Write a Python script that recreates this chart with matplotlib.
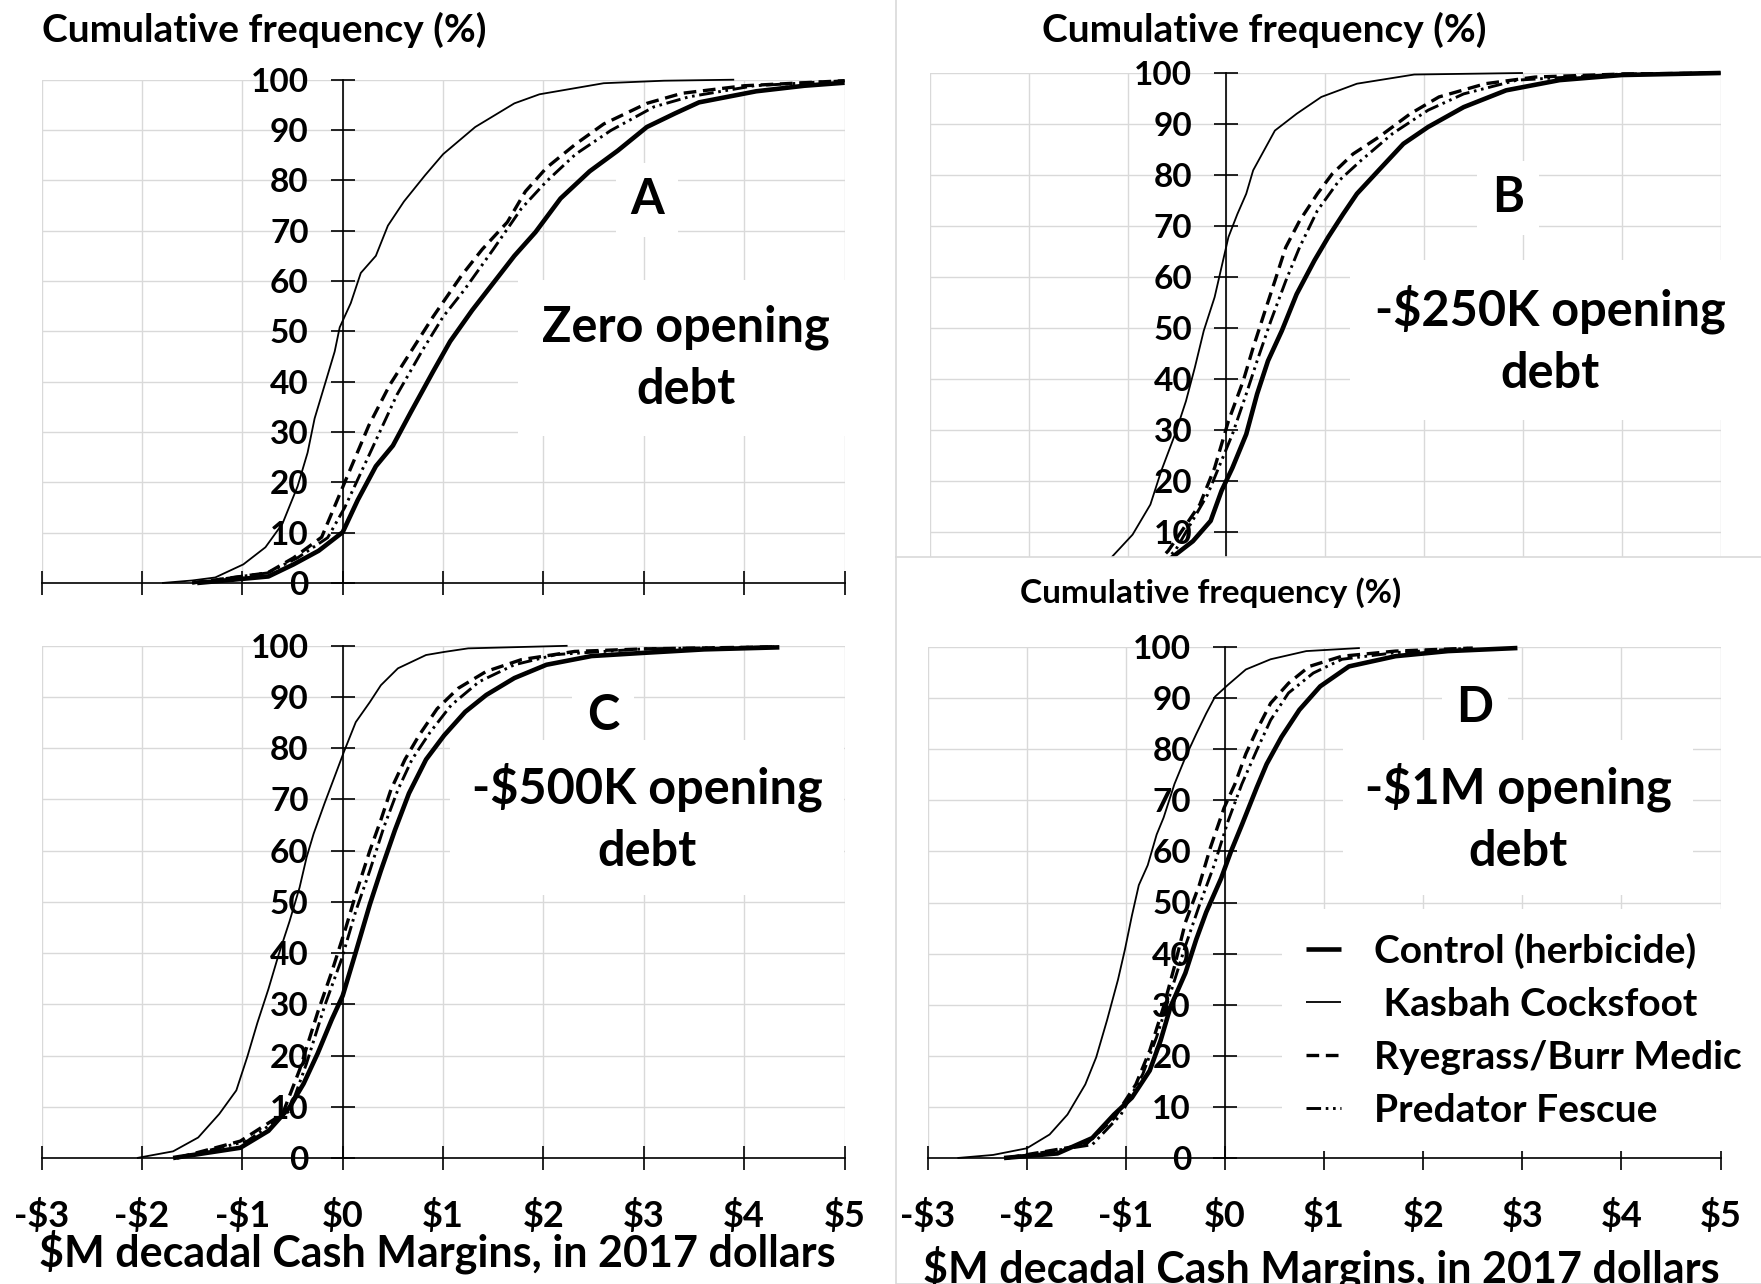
import matplotlib
matplotlib.use("Agg")
import matplotlib.pyplot as plt
from matplotlib.lines import Line2D
from matplotlib.patches import Rectangle

plt.rcParams['font.family'] = ['Lato', 'DejaVu Sans']
plt.rcParams['font.weight'] = 'bold'

# ---------------- data ----------------
x_ticks = [-3, -2, -1, 0, 1, 2, 3, 4, 5]
x_tick_labels = ['-$3', '-$2', '-$1', '$0', '$1', '$2', '$3', '$4', '$5']
y_ticks = [0, 10, 20, 30, 40, 50, 60, 70, 80, 90, 100]
series_labels = ['Control (herbicide)', ' Kasbah Cocksfoot', 'Ryegrass/Burr Medic', 'Predator Fescue']
panel_letters = ['A', 'B', 'C', 'D']
panel_notes = ['Zero opening\ndebt', '-$250K opening\ndebt', '-$500K opening\ndebt', '-$1M opening\ndebt']
y_label = 'Cumulative frequency (%)'
x_label = '$M decadal Cash Margins, in 2017 dollars'

# Panel A (zero opening debt)
A_control_x = [-1.45, -0.74, -0.49, -0.24, 0.0, 0.15, 0.33, 0.50, 0.68, 0.90, 1.07, 1.29, 1.50, 1.71, 1.92, 2.17, 2.46, 2.74, 3.03, 3.31, 3.55, 4.12, 4.6, 5.0]
A_control_y = [0, 1.3, 3.7, 6.4, 10.1, 16.5, 23.2, 27.3, 34, 42, 48, 54.2, 59.6, 65, 69.7, 76.4, 81.8, 85.9, 90.6, 93.3, 95.5, 97.7, 98.8, 99.4]
A_kasbah_x = [-1.80, -1.50, -1.27, -0.99, -0.77, -0.60, -0.45, -0.35, -0.28, -0.17, -0.08, -0.03, 0.08, 0.18, 0.33, 0.45, 0.61, 0.82, 1.00, 1.32, 1.71, 1.96, 2.60, 3.20, 3.90]
A_kasbah_y = [0, 0.5, 1.1, 3.7, 7.1, 11.8, 19.2, 25.9, 32.7, 40, 46, 50.8, 55.6, 61.6, 65, 71, 75.8, 81, 85.2, 90.6, 95.3, 97.1, 99.3, 99.8, 100]
A_rye_x = [-1.50, -0.75, -0.49, -0.21, 0.02, 0.26, 0.47, 0.68, 0.90, 1.18, 1.39, 1.64, 1.82, 2.03, 2.32, 2.60, 3.03, 3.38, 4.0, 5.0]
A_rye_y = [0, 2, 5, 9.1, 20, 31.3, 39.4, 46, 52.9, 61, 66.3, 71.7, 77.8, 82.5, 87.2, 91.2, 95.3, 97.3, 98.8, 99.8]
A_pred_x = [-1.50, -0.75, -0.45, -0.15, 0.02, 0.29, 0.54, 0.79, 1.00, 1.21, 1.50, 1.78, 2.03, 2.32, 2.67, 3.10, 3.45, 4.1, 5.0]
A_pred_y = [0, 2, 5, 9, 15, 26.6, 37.4, 46.1, 52.9, 58.2, 66.3, 74.4, 79.8, 85.2, 89.9, 94.6, 96.6, 98.8, 99.8]

# Panel B (-$250K opening debt)
B_control_x = [-0.75, -0.56, -0.34, -0.16, -0.05, 0.06, 0.20, 0.31, 0.42, 0.56, 0.71, 0.89, 1.03, 1.18, 1.32, 1.54, 1.79, 2.04, 2.40, 2.83, 3.37, 4.0, 5.0]
B_control_y = [2.5, 4.8, 8.1, 12.1, 18, 22.5, 29.1, 37, 43.5, 49.4, 56.6, 63.2, 67.8, 72.3, 76.3, 80.9, 86.1, 89.4, 93.3, 96.6, 98.6, 99.6, 100]
B_kasbah_x = [-1.45, -1.17, -0.95, -0.77, -0.66, -0.52, -0.41, -0.32, -0.23, -0.12, -0.05, 0.02, 0.11, 0.20, 0.27, 0.38, 0.49, 0.71, 0.96, 1.32, 1.90, 3.0]
B_kasbah_y = [2, 4.8, 9.4, 15.3, 21.9, 29.1, 35.6, 42.2, 49.4, 56, 61.9, 67.8, 72.3, 76.3, 80.9, 84.8, 88.7, 92, 95.3, 97.9, 99.7, 100]
B_rye_x = [-0.75, -0.59, -0.27, -0.12, 0.02, 0.17, 0.27, 0.38, 0.49, 0.60, 0.74, 0.92, 1.07, 1.28, 1.54, 1.86, 2.15, 2.62, 3.12, 4.0, 5.0]
B_rye_y = [3, 6.2, 15.3, 22.5, 31.7, 39.6, 46.1, 52.7, 59.2, 65.8, 71, 76.3, 80.2, 84.1, 87.4, 92, 95.3, 97.9, 99.2, 99.8, 100]
B_pred_x = [-0.70, -0.52, -0.19, 0.06, 0.20, 0.31, 0.45, 0.60, 0.74, 0.92, 1.14, 1.36, 1.68, 2.04, 2.40, 2.94, 4.0, 5.0]
B_pred_y = [3, 6.2, 17.3, 29.1, 37, 43.5, 51.4, 59.2, 65.8, 73, 78.9, 82.8, 88.1, 92.7, 95.9, 98.6, 99.8, 100]

# Panel C (-$500K opening debt)
C_control_x = [-1.69, -1.02, -0.74, -0.53, -0.39, -0.25, -0.11, 0.0, 0.13, 0.27, 0.38, 0.52, 0.66, 0.83, 1.01, 1.22, 1.43, 1.71, 2.03, 2.48, 2.98, 3.6, 4.35]
C_control_y = [0, 2, 5.3, 9.9, 14.5, 20.4, 27, 31.7, 40.2, 49.5, 56.1, 64, 71.2, 77.8, 82.5, 87.1, 90.4, 93.7, 96.3, 98, 98.6, 99.3, 99.7]
C_kasbah_x = [-2.05, -1.69, -1.44, -1.23, -1.06, -0.95, -0.85, -0.74, -0.64, -0.53, -0.43, -0.36, -0.29, -0.18, -0.08, 0.01, 0.13, 0.27, 0.38, 0.55, 0.83, 1.01, 1.25, 2.24]
C_kasbah_y = [0, 1.3, 4, 8.6, 13.2, 19.8, 26.4, 33, 39.6, 46.2, 52.8, 58.7, 63.3, 69.3, 74.5, 79.2, 85.1, 89, 92.3, 95.6, 98.2, 98.8, 99.5, 100]
C_rye_x = [-1.65, -1.02, -0.60, -0.43, -0.25, -0.11, 0.03, 0.13, 0.27, 0.38, 0.48, 0.62, 0.76, 0.94, 1.15, 1.43, 1.78, 2.31, 3.0, 4.3]
C_rye_y = [0, 3.3, 8.6, 17.2, 28.4, 36.3, 44.9, 51.5, 60, 66, 71.9, 77.8, 82.5, 87.7, 91.7, 95, 97.3, 98.9, 99.4, 99.8]
C_pred_x = [-1.65, -0.95, -0.53, -0.36, -0.18, -0.01, 0.13, 0.27, 0.41, 0.55, 0.69, 0.87, 1.08, 1.36, 1.71, 2.13, 3.0, 4.3]
C_pred_y = [0, 3.3, 9.2, 18.5, 29.7, 38.9, 48.2, 56.1, 64.6, 71.9, 77.8, 83.1, 88.4, 93, 96.3, 98.3, 99.4, 99.8]

# Panel D (-$1M opening debt)
D_control_x = [-2.23, -1.69, -1.34, -1.12, -0.94, -0.76, -0.65, -0.55, -0.40, -0.29, -0.19, -0.04, 0.06, 0.17, 0.32, 0.42, 0.57, 0.75, 0.96, 1.25, 1.72, 2.25, 2.95]
D_control_y = [0, 0.9, 3.9, 8.5, 11.8, 17.1, 23, 29.6, 36.2, 42.8, 48.1, 54.7, 60, 65.2, 72.5, 77.1, 82.4, 87.7, 92.3, 96.2, 98.2, 99.2, 99.8]
D_kasbah_x = [-2.70, -2.34, -2.00, -1.77, -1.59, -1.41, -1.30, -1.19, -1.08, -1.01, -0.94, -0.87, -0.78, -0.69, -0.62, -0.51, -0.40, -0.29, -0.19, -0.10, 0.03, 0.21, 0.46, 0.82, 1.36]
D_kasbah_y = [0, 0.6, 1.9, 4.6, 8.5, 14.4, 19.7, 27, 34.9, 40.8, 47.4, 53.4, 57.3, 63.3, 66.6, 73.2, 78.4, 83, 87, 90.3, 92.6, 95.6, 97.6, 99.2, 99.8]
D_rye_x = [-2.2, -1.41, -1.12, -0.90, -0.76, -0.62, -0.51, -0.40, -0.26, -0.15, -0.01, 0.10, 0.21, 0.32, 0.46, 0.64, 0.85, 1.18, 1.72, 2.5]
D_rye_y = [0, 2.6, 7.8, 14.4, 21, 29.6, 37.5, 46.1, 53.4, 60.6, 68.5, 73.2, 79.1, 83.7, 89, 92.9, 96.2, 98.2, 99.2, 99.8]
D_pred_x = [-2.2, -1.34, -1.05, -0.83, -0.69, -0.55, -0.40, -0.26, -0.11, 0.03, 0.17, 0.32, 0.46, 0.64, 0.89, 1.18, 1.72, 2.5]
D_pred_y = [0, 2.6, 8.5, 16.4, 23.7, 32.3, 41.5, 49.4, 57.3, 65.9, 73.2, 79.8, 85.7, 91, 94.9, 97.6, 98.9, 99.8]

# ---------------- layout helpers ----------------
W, H = 1761, 1284
fig = plt.figure(figsize=(W / 100, H / 100), dpi=100)
fig.patch.set_facecolor('white')


def fx(px):
    return px / W


def fy(py):
    return 1 - py / H


def make_axes(left, right, top, bottom):
    return fig.add_axes([fx(left), fy(bottom), (right - left) / W, (bottom - top) / H])


styles = [
    dict(color='black', lw=3.3, linestyle='-'),
    dict(color='black', lw=1.3, linestyle='-'),
    dict(color='black', lw=2.4, linestyle=(0, (3.8, 2.0))),
    dict(color='black', lw=2.1, linestyle=(0, (5.0, 1.6, 0.9, 1.6, 0.9, 1.6))),
]

GRID = '#d9d9d9'


def setup(ax, show_xlabels, hide_zero_label=False):
    ax.set_xlim(-3, 5)
    ax.set_ylim(0, 100)
    for s in ['top', 'right']:
        ax.spines[s].set_visible(False)
    ax.spines['left'].set_position(('data', 0))
    ax.spines['bottom'].set_position(('data', 0))
    for s in ['left', 'bottom']:
        ax.spines[s].set_linewidth(1.2)
    ax.set_xticks(x_ticks)
    ax.set_yticks(y_ticks)
    ax.set_yticklabels(['' if (hide_zero_label and v == 0) else str(v) for v in y_ticks])
    if show_xlabels:
        ax.set_xticklabels(x_tick_labels)
    else:
        ax.tick_params(axis='x', labelbottom=False)
    ax.grid(True, color=GRID, lw=1.0)
    ax.set_axisbelow(True)
    ax.tick_params(direction='inout', length=17, width=1.2)
    ax.tick_params(axis='y', pad=16, labelsize=24)
    ax.tick_params(axis='x', pad=20, labelsize=26)
    ax.set_facecolor('white')


def plot_panel(ax, data):
    lines = []
    for (xs, ys), st in zip(data, styles):
        ln, = ax.plot(xs, ys, clip_on=False, zorder=3, solid_capstyle='butt', **st)
        lines.append(ln)
    return lines


axA = make_axes(41.6, 844.6, 79.7, 583)
axB = make_axes(930, 1720.6, 73, 582.5)
axC = make_axes(41.6, 844.6, 645.8, 1158)
axD = make_axes(927.7, 1720.6, 647, 1158)
axD.set_zorder(2)

setup(axA, False)
setup(axB, False, hide_zero_label=True)
setup(axC, True)
setup(axD, True)

plot_panel(axA, [(A_control_x, A_control_y), (A_kasbah_x, A_kasbah_y), (A_rye_x, A_rye_y), (A_pred_x, A_pred_y)])
plot_panel(axB, [(B_control_x, B_control_y), (B_kasbah_x, B_kasbah_y), (B_rye_x, B_rye_y), (B_pred_x, B_pred_y)])
plot_panel(axC, [(C_control_x, C_control_y), (C_kasbah_x, C_kasbah_y), (C_rye_x, C_rye_y), (C_pred_x, C_pred_y)])
linesD = plot_panel(axD, [(D_control_x, D_control_y), (D_kasbah_x, D_kasbah_y), (D_rye_x, D_rye_y), (D_pred_x, D_pred_y)])

# white chart area of panel D drawn over the bottom of panel B
cover = Rectangle((fx(896), 0), 1 - fx(896) + 0.01, fy(557), transform=fig.transFigure,
                  facecolor='white', edgecolor=GRID, lw=1.2, zorder=1)
fig.patches.append(cover)
fig.add_artist(Line2D([fx(896), fx(896)], [fy(0), fy(557)], color=GRID, lw=1.2, zorder=1))

# y-axis titles
fig.text(fx(41.5), fy(30), y_label, fontsize=28, ha='left', va='center', zorder=5)
fig.text(fx(1042), fy(30), y_label, fontsize=28, ha='left', va='center', zorder=5)
fig.text(fx(1020), fy(593), y_label, fontsize=24, ha='left', va='center', zorder=5)

# x-axis titles
fig.text(fx(437), fy(1252), x_label, fontsize=31, ha='center', va='center', zorder=5)
fig.text(fx(1321), fy(1268), x_label, fontsize=31, ha='center', va='center', zorder=5)

# panel letters and notes
letter_pos = [(647, 200), (1508, 198), (603, 715), (1475, 708)]
note_pos = [(686, 358), (1550, 340), (647, 818), (1518, 818)]
note_pad = [0.5, 0.5, 0.45, 0.45]
for ax, letter, (lx, ly), note, (nx, ny), pd in zip([axA, axB, axC, axD], panel_letters, letter_pos,
                                                   panel_notes, note_pos, note_pad):
    ax.text(fx(lx), fy(ly), letter, transform=fig.transFigure, fontsize=35, ha='center', va='center',
            zorder=2.5, bbox=dict(boxstyle='square,pad=0.3', fc='white', ec='none'))
    ax.text(fx(nx), fy(ny), note, transform=fig.transFigure, fontsize=35, ha='center', va='center',
            multialignment='center', linespacing=1.45, zorder=2.5,
            bbox=dict(boxstyle='square,pad=%s' % pd, fc='white', ec='none'))

# legend in panel D
leg = axD.legend(linesD, series_labels, loc='upper left', bbox_to_anchor=(fx(1263), fy(890)),
                 bbox_transform=fig.transFigure, fontsize=28, handlelength=0.9, handletextpad=0.85,
                 labelspacing=0.46, borderpad=0.6, frameon=True, fancybox=False)
leg.get_frame().set_facecolor('white')
leg.get_frame().set_edgecolor('none')
leg.get_frame().set_alpha(1)
leg.set_zorder(2.6)

fig.savefig('out.png', dpi=100, facecolor='white')
